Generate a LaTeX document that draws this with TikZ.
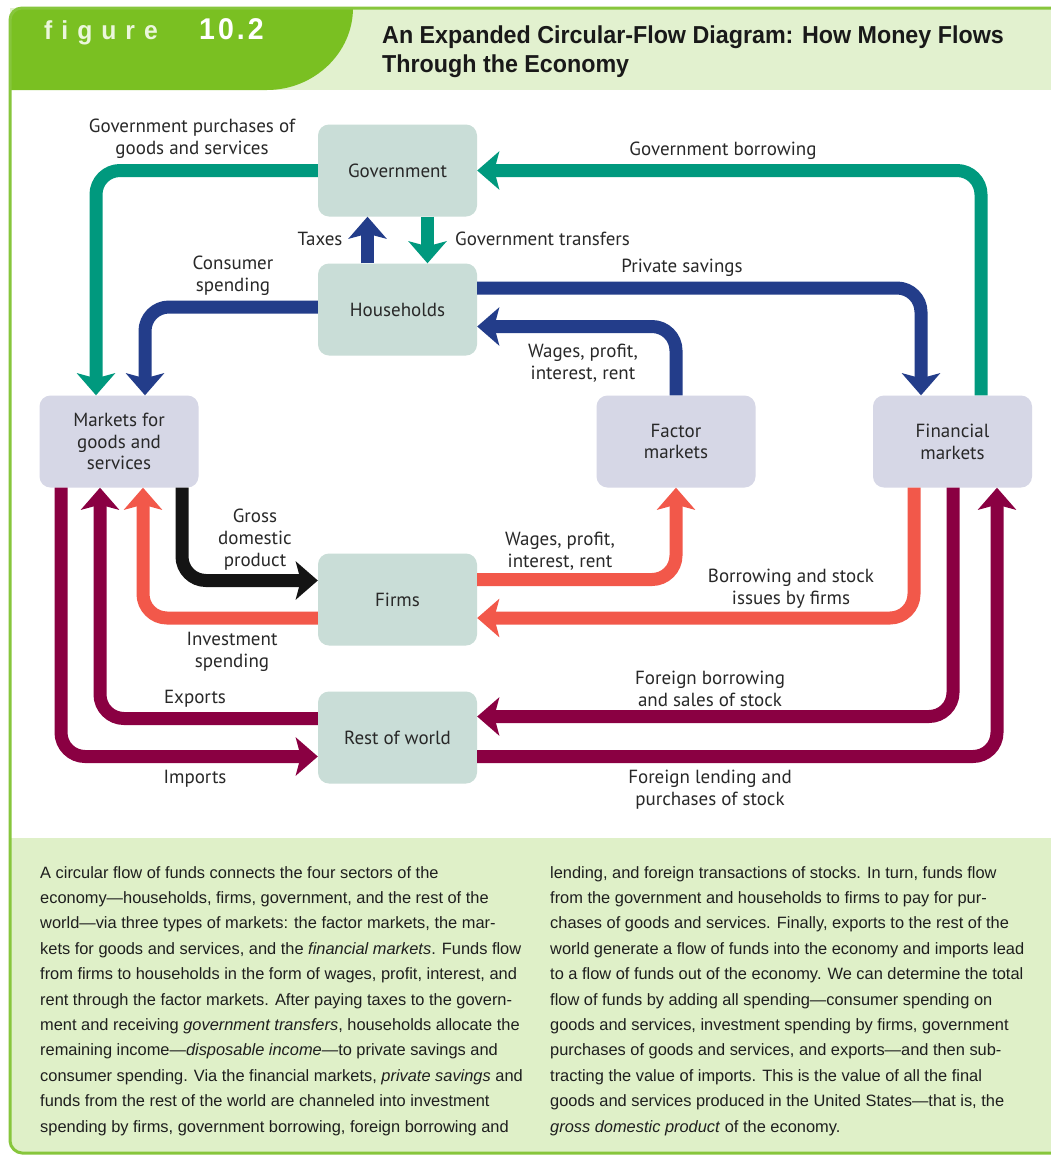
\documentclass[tikz,border=0pt]{standalone}
\usepackage{fontspec}
\setmainfont{PT Sans}
\newfontfamily\capfont{Liberation Sans}
\newfontfamily\titlefont[FakeStretch=0.95]{Liberation Sans}
\usetikzlibrary{arrows.meta,calc}
\newcommand\lblfont{\fontsize{19}{21.8}\selectfont}
\newcommand\capfnt{\capfont\fontsize{16.4}{25.4}\selectfont}
\definecolor{tealc}{RGB}{0,153,126}
\definecolor{navyc}{RGB}{35,61,138}
\definecolor{blackc}{RGB}{20,20,20}
\definecolor{coralc}{RGB}{242,88,74}
\definecolor{maroonc}{RGB}{138,0,66}
\definecolor{sectorc}{RGB}{201,221,215}
\definecolor{marketc}{RGB}{214,215,230}
\definecolor{labelc}{RGB}{40,40,40}
\definecolor{tabc}{RGB}{122,192,34}
\definecolor{bandc}{RGB}{226,241,207}
\definecolor{capbg}{RGB}{223,240,200}
\definecolor{framec}{RGB}{135,198,60}
\definecolor{titlec}{RGB}{25,25,25}
\definecolor{figtextc}{RGB}{235,246,220}
\definecolor{captext}{RGB}{30,30,30}
\begin{document}
\begin{tikzpicture}[x=1pt,y=-1pt,
  box/.style={rounded corners=11pt, minimum width=159pt, minimum height=92pt, inner sep=0pt, align=center, font=\lblfont, text=labelc},
  sector/.style={box, fill=sectorc},
  market/.style={box, fill=marketc},
  flow/.style={line width=13pt, rounded corners=24pt, -{Stealth[length=22pt,width=38pt,inset=5pt]}},
  lab/.style={font=\lblfont, align=center, text=labelc, inner sep=0pt},
  captxt/.style={anchor=north west, align=left, inner sep=0pt, font=\capfnt, text=captext}
]
\useasboundingbox (0,0) rectangle (1051,1157);
\fill[white] (0,0) rectangle (1051,1157);
% caption background
\fill[capbg] (10,838) -- (10,1141) .. controls (10,1147.6) and (16.4,1153) .. (22,1153) -- (1060,1153) -- (1060,838) -- cycle;
% header band
\fill[bandc] (10,8) rectangle (1060,90);
% tab
\fill[tabc] (10,90) -- (10,20) .. controls (10,13.4) and (15.4,8) .. (22,8) -- (353,8) .. controls (353,53) and (314,90) .. (267,90) -- cycle;
% frame
\draw[framec, line width=3pt] (1060,8) -- (22,8) .. controls (15.4,8) and (10,13.4) .. (10,20) -- (10,1141) .. controls (10,1147.6) and (16.4,1153) .. (22,1153) -- (1060,1153);

% header texts
\node[anchor=base west, inner sep=0pt, text=figtextc, font=\titlefont\bfseries\fontsize{26}{26}\selectfont] (figword) at (44,39) {f\kern9pt i\kern9pt g\kern9pt u\kern9pt r\kern9pt e};
\node[anchor=base west, inner sep=0pt, text=white, font=\titlefont\bfseries\fontsize{30}{30}\selectfont] (fignum) at (199,39) {1\kern3pt 0\kern3pt .\kern3pt 2};
\node[anchor=base west, inner sep=0pt, text=titlec, font=\titlefont\bfseries\fontsize{24.5}{29}\selectfont] (title1) at (382,43) {An Expanded Circular-Flow Diagram: How Money Flows};
\node[anchor=base west, inner sep=0pt, text=titlec, font=\titlefont\bfseries\fontsize{24.5}{29}\selectfont] (title2) at (382,72) {Through the Economy};

% boxes
\node[sector] (gov) at (397.5,170.5) {Government};
\node[sector] (hh) at (397.5,309.5) {Households};
\node[market] (mkt) at (119,441.5) {Markets for\\goods and\\services};
\node[market] (fac) at (676,441.5) {Factor\\markets};
\node[market] (fin) at (952.5,441.5) {Financial\\markets};
\node[sector] (firms) at (397.5,599.5) {Firms};
\node[sector] (row) at (397.5,737.5) {Rest of world};

% flows
\draw[flow, tealc] (gov.west) -| ([xshift=-23pt]mkt.north);
\draw[flow, navyc] ([yshift=2.5pt]hh.west) -| ([xshift=26pt]mkt.north);
\draw[flow, tealc] ([xshift=28.5pt]fin.north) |- (gov.east);
\draw[flow, navyc] ([yshift=21.5pt]hh.east) -| ([xshift=-31.5pt]fin.north);
\draw[flow, navyc] (fac.north) |- ([yshift=-17pt]hh.east);
\draw[flow, navyc] ([xshift=-30pt]hh.north) -- ([xshift=-30pt]gov.south);
\draw[flow, tealc] ([xshift=30pt]gov.south) -- ([xshift=30pt]hh.north);
\draw[flow, blackc] ([xshift=63pt]mkt.south) |- ([yshift=19pt]firms.west);
\draw[flow, coralc] ([yshift=-18.5pt]firms.west) -| ([xshift=24pt]mkt.south);
\draw[flow, coralc] ([yshift=20pt]firms.east) -| (fac.south);
\draw[flow, coralc] ([xshift=-38.5pt]fin.south) |- ([yshift=-18.5pt]firms.east);
\draw[flow, maroonc] ([yshift=19pt]row.west) -| ([xshift=-19pt]mkt.south);
\draw[flow, maroonc] ([xshift=-58pt]mkt.south) |- ([yshift=-19pt]row.west);
\draw[flow, maroonc] ([xshift=0.5pt]fin.south) |- ([yshift=21pt]row.east);
\draw[flow, maroonc] ([yshift=-19pt]row.east) -| ([xshift=44.5pt]fin.south);

% labels
\node[lab] (lgp) at (192,139) {Government purchases of\\goods and services};
\node[lab] (lgb) at (723,151) {Government borrowing};
\node[lab] (ltax) at (320,239) {Taxes};
\node[lab, anchor=west] (ltr) at (455,239) {Government transfers};
\node[lab] (lcs) at (233,276) {Consumer\\spending};
\node[lab] (lps) at (682,268) {Private savings};
\node[lab] (lw1) at (583,363.5) {Wages, profit,\\interest, rent};
\node[lab] (lgdp) at (255,539.5) {Gross\\domestic\\product};
\node[lab] (lw2) at (560,551.5) {Wages, profit,\\interest, rent};
\node[lab] (lbs) at (791,588.5) {Borrowing and stock\\issues by firms};
\node[lab] (lis) at (232,652) {Investment\\spending};
\node[lab] (lfb) at (710,688.5) {Foreign borrowing\\and sales of stock};
\node[lab] (lex) at (195,699) {Exports};
\node[lab] (lim) at (195,779) {Imports};
\node[lab] (lfl) at (710,790) {Foreign lending and\\purchases of stock};

% caption
\node[captxt] (capL) at (40,866) {A circular flow of funds connects the four sectors of the\\
economy—households, firms, government, and the rest of the\\
world—via three types of markets: the factor markets, the mar-\\
kets for goods and services, and the \textit{financial markets}. Funds flow\\
from firms to households in the form of wages, profit, interest, and\\
rent through the factor markets. After paying taxes to the govern-\\
ment and receiving \textit{government transfers}, households allocate the\\
remaining income—\textit{disposable income}—to private savings and\\
consumer spending. Via the financial markets, \textit{private savings} and\\
funds from the rest of the world are channeled into investment\\
spending by firms, government borrowing, foreign borrowing and};
\node[captxt] (capR) at (550,866) {lending, and foreign transactions of stocks. In turn, funds flow\\
from the government and households to firms to pay for pur-\\
chases of goods and services. Finally, exports to the rest of the\\
world generate a flow of funds into the economy and imports lead\\
to a flow of funds out of the economy. We can determine the total\\
flow of funds by adding all spending—consumer spending on\\
goods and services, investment spending by firms, government\\
purchases of goods and services, and exports—and then sub-\\
tracting the value of imports. This is the value of all the final\\
goods and services produced in the United States—that is, the\\
\textit{gross domestic product} of the economy.};
\end{tikzpicture}
\end{document}
